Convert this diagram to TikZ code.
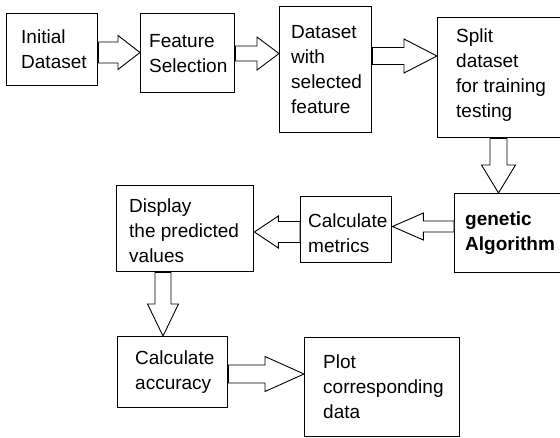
\documentclass[tikz,border=0pt]{standalone}
\usepackage{fontspec}
\setmainfont{Liberation Sans}
\usetikzlibrary{calc}
% #1 start, #2 tip, #3 shaft half width, #4 head half width, #5 head length
\newcommand\barrow[5]{%
  \path ($(#2)!#5!(#1)$) coordinate (hb);
  \draw[arrowline] ($(#1)!#3!90:(#2)$) -- ($(hb)!#3!90:(#2)$) -- ($(hb)!#4!90:(#2)$)
    -- (#2) -- ($(hb)!#4!-90:(#2)$) -- ($(hb)!#3!-90:(#2)$) -- ($(#1)!#3!-90:(#2)$) -- cycle;}
\tikzset{
  boxnode/.style={draw=black, line width=1.4pt, rectangle, inner sep=0pt, anchor=north west},
  txt/.style={inner sep=0pt, anchor=west, align=left, font=\fontsize{19}{25}\selectfont},
  arrowline/.style={draw=black, line width=0.9pt, fill=white, line join=miter},
}
\begin{document}
\begin{tikzpicture}[x=1pt, y=-1pt]
\fill[white] (0,0) rectangle (560,437);
\useasboundingbox (0,0) rectangle (560,437);

% boxes
\node[boxnode, minimum width=91pt, minimum height=72pt] (b1) at (6,13) {};
\node[boxnode, minimum width=94pt, minimum height=79pt] (b2) at (140,13) {};
\node[boxnode, minimum width=92pt, minimum height=126pt] (b3) at (279,6) {};
\node[boxnode, minimum width=130pt, minimum height=120pt] (b4) at (437,17) {};
\node[boxnode, minimum width=115pt, minimum height=79pt] (ga) at (454,193) {};
\node[boxnode, minimum width=91pt, minimum height=66pt] (cm) at (300,196) {};
\node[boxnode, minimum width=137pt, minimum height=86pt] (dp) at (116,185) {};
\node[boxnode, minimum width=110pt, minimum height=71pt] (ca) at (117,336) {};
\node[boxnode, minimum width=155pt, minimum height=99pt] (pl) at (304,337) {};

% texts
\node[txt] (t1) at ([xshift=15pt]b1.west) {Initial\\Dataset};
\node[txt] (t2) at ([xshift=9pt]b2.west) {Feature\\Selection};
\node[txt] (t3) at ([xshift=12pt]b3.west) {Dataset\\with\\selected\\feature};
\node[txt, anchor=north west] (t4) at ([xshift=19pt, yshift=-12pt]b4.north west) {Split\\dataset\\for training\\testing};
\node[txt, font=\fontsize{19}{25}\selectfont\bfseries] (tga) at ([xshift=11pt]ga.west) {genetic\\Algorithm};
\node[txt] (tcm) at ([xshift=8pt, yshift=-3.5pt]cm.west) {Calculate\\metrics};
\node[txt] (tdp) at ([xshift=13pt, yshift=-2pt]dp.west) {Display\\the predicted\\values};
\node[txt] (tca) at ([xshift=18pt]ca.west) {Calculate\\accuracy};
\node[txt] (tpl) at ([xshift=19pt]pl.west) {Plot\\corresponding\\data};

% arrow end points
\coordinate (a1s) at (b1.east |- 0,52.5);
\coordinate (a1e) at (b2.west |- 0,52.5);
\coordinate (a2s) at (b2.east |- 0,53.5);
\coordinate (a2e) at (b3.west |- 0,53.5);
\coordinate (a3s) at (b3.east |- 0,56);
\coordinate (a3e) at (b4.west |- 0,56);
\coordinate (a4s) at (498.5,0 |- b4.south);
\coordinate (a4e) at (498.5,0 |- ga.north);
\coordinate (a5s) at (ga.west |- 0,226.5);
\coordinate (a5e) at (cm.east |- 0,226.5);
\coordinate (a6s) at (cm.west |- 0,232);
\coordinate (a6e) at (dp.east |- 0,232);
\coordinate (a7s) at (163,0 |- dp.south);
\coordinate (a7e) at (163,0 |- ca.north);
\coordinate (a8s) at (ca.east |- 0,374);
\coordinate (a8e) at (pl.west |- 0,374);

% block arrows
\barrow{a1s}{a1e}{10.5pt}{17pt}{22pt}
\barrow{a2s}{a2e}{7.5pt}{16.5pt}{22pt}
\barrow{a3s}{a3e}{8.5pt}{17pt}{33pt}
\barrow{a4s}{a4e}{8.5pt}{17pt}{28pt}
\barrow{a5s}{a5e}{5.5pt}{13.5pt}{31pt}
\barrow{a6s}{a6e}{10.5pt}{16pt}{24pt}
\barrow{a7s}{a7e}{8pt}{15.5pt}{32pt}
\barrow{a8s}{a8e}{9pt}{17.5pt}{39pt}
\end{tikzpicture}
\end{document}
